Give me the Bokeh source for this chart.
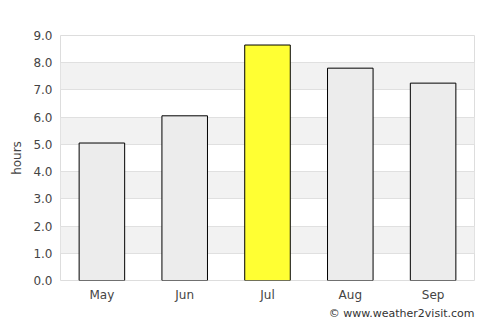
from bokeh.plotting import figure
from bokeh.models import Range1d, Title, FixedTicker, ColumnDataSource, NumeralTickFormatter
from bokeh.embed import file_html
from bokeh.resources import INLINE

months = ["May", "Jun", "Jul", "Aug", "Sep"]
hours = [5.05, 6.05, 8.65, 7.8, 7.25]
colors = ["#ececec", "#ececec", "#ffff33", "#ececec", "#ececec"]
yticks = [0, 1, 2, 3, 4, 5, 6, 7, 8, 9]

src = ColumnDataSource(dict(m=months, h=hours, c=colors))

p = figure(x_range=months, y_range=Range1d(0, 9), width=500, height=320,
           output_backend="svg", toolbar_location=None,
           min_border_left=60, min_border_right=26, min_border_top=35, min_border_bottom=0)
p.vbar(x="m", top="h", width=0.55, source=src, fill_color="c",
       line_color="#000000", line_width=1)

p.outline_line_color = "#dddddd"
p.background_fill_color = "#ffffff"
p.border_fill_color = "#ffffff"

p.xgrid.grid_line_color = None
p.ygrid.grid_line_color = "#e0e0e0"
p.ygrid.band_fill_color = "#f2f2f2"
p.ygrid.band_fill_alpha = 1.0
p.yaxis.ticker = FixedTicker(ticks=yticks)
p.yaxis.formatter = NumeralTickFormatter(format="0.0")

for ax in (p.xaxis[0], p.yaxis[0]):
    ax.axis_line_color = None
    ax.major_tick_line_color = None
    ax.minor_tick_line_color = None
    ax.major_tick_out = 0
    ax.major_tick_in = 0
    ax.major_label_text_font = "DejaVu Sans"
    ax.major_label_text_font_size = "12px"
    ax.major_label_text_color = "#444444"
p.yaxis.axis_label = "hours"
p.yaxis.axis_label_text_font = "DejaVu Sans"
p.yaxis.axis_label_text_font_size = "12px"
p.yaxis.axis_label_text_font_style = "normal"
p.yaxis.axis_label_text_color = "#444444"
p.yaxis.axis_label_standoff = 6
p.xaxis.major_label_standoff = 7
p.yaxis.major_label_standoff = 8

p.add_layout(Title(text="© www.weather2visit.com", align="right",
                   text_font="DejaVu Sans", text_font_size="11px",
                   text_font_style="normal", text_color="#333333",
                   standoff=1), "below")

open("out.html", "w").write(file_html(p, INLINE))
